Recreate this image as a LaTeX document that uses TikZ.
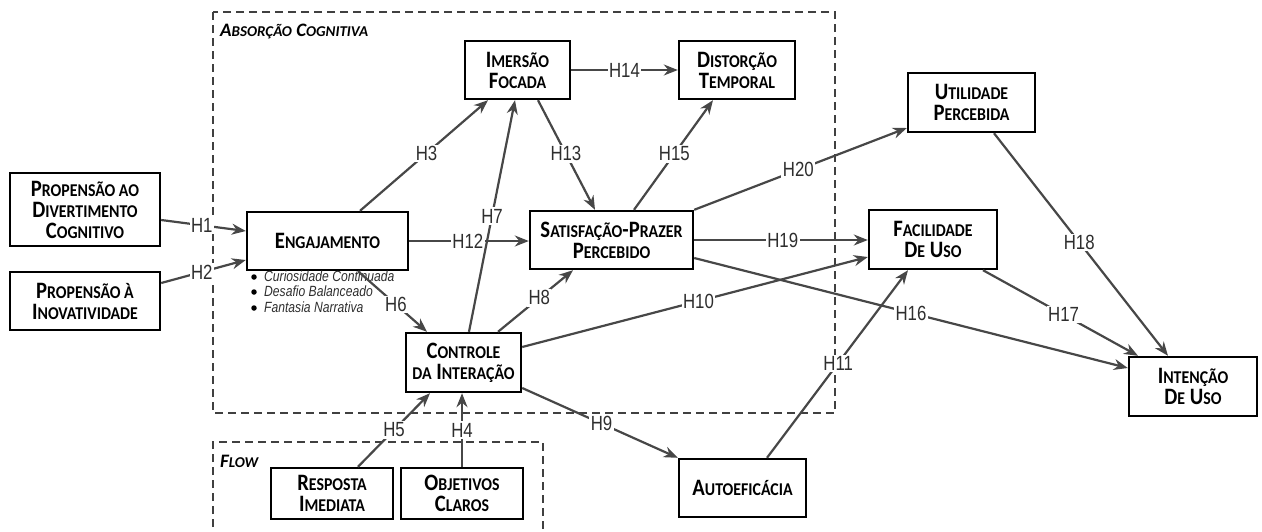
\documentclass[tikz,border=0pt]{standalone}
\usepackage{fontspec}
\usetikzlibrary{arrows.meta,calc}
\newfontfamily\boxfont[FakeStretch=0.88]{Carlito}
\newfontfamily\ttlfont{Carlito}
\newfontfamily\lblfont[FakeStretch=0.82]{Liberation Sans}
\newcommand\smc[1]{{\fontsize{18}{21}\selectfont #1}}
\newcommand\smt[1]{{\fontsize{15}{16}\selectfont #1}}
\definecolor{edgec}{HTML}{474747}
\definecolor{lblc}{HTML}{2E2E2E}
\tikzset{
  box/.style={draw=black, line width=2.4pt, fill=white, align=center, inner sep=0pt,
    font=\boxfont\bfseries\fontsize{23.5}{21}\selectfont},
  edge/.style={draw=edgec, line width=2.2pt, -{Stealth[length=14pt,width=11pt]}},
  lbl/.style={fill=white, inner sep=1.5pt, text=lblc, font=\lblfont\fontsize{20.5}{22}\selectfont},
  grp/.style={draw=black!75, line width=1.5pt, dash pattern=on 8pt off 5pt},
  ttl/.style={inner sep=0pt, anchor=base west, font=\ttlfont\bfseries\itshape\fontsize{19}{20}\selectfont},
  bul/.style={inner sep=0pt, anchor=base west, text=lblc, font=\lblfont\itshape\fontsize{14.8}{16}\selectfont},
  dot/.style={circle, fill=black, inner sep=0pt, minimum size=5.5pt}
}
\begin{document}
\begin{tikzpicture}[x=1pt,y=-1pt]
\useasboundingbox (0,0) rectangle (1262,531);
% groups
\draw[grp] (213,12) rectangle (835,413);
\draw[grp] (213,540) -- (213,442) -- (543,442) -- (543,540);
\node[ttl] (tabs) at (220,36) {A\smt{BSORÇÃO} C\smt{OGNITIVA}};
\node[ttl] (tflow) at (220,467) {F\smt{LOW}};
% boxes
\node[box, minimum width=150pt, minimum height=73pt] (pdc) at (85,209.5) {P\smc{ROPENSÃO AO}\\D\smc{IVERTIMENTO}\\C\smc{OGNITIVO}};
\node[box, minimum width=150pt, minimum height=58pt] (pin) at (85,301) {P\smc{ROPENSÃO À}\\I\smc{NOVATIVIDADE}};
\node[box, minimum width=161pt, minimum height=58pt] (eng) at (327.5,241) {E\smc{NGAJAMENTO}};
\node[box, minimum width=105pt, minimum height=58pt] (ime) at (517.5,70) {I\smc{MERSÃO}\\F\smc{OCADA}};
\node[box, minimum width=116pt, minimum height=58pt] (dis) at (737,70) {D\smc{ISTORÇÃO}\\T\smc{EMPORAL}};
\node[box, minimum width=163pt, minimum height=58pt] (sat) at (611.5,240) {S\smc{ATISFAÇÃO}-P\smc{RAZER}\\P\smc{ERCEBIDO}};
\node[box, minimum width=115pt, minimum height=59pt] (ctl) at (463.5,362.5) {C\smc{ONTROLE}\\\smc{DA} I\smc{NTERAÇÃO}};
\node[box, minimum width=122pt, minimum height=51pt] (res) at (332,493.5) {R\smc{ESPOSTA}\\I\smc{MEDIATA}};
\node[box, minimum width=122pt, minimum height=51pt] (obj) at (462,493.5) {O\smc{BJETIVOS}\\C\smc{LAROS}};
\node[box, minimum width=127pt, minimum height=59pt] (uti) at (971.5,102.5) {U\smc{TILIDADE}\\P\smc{ERCEBIDA}};
\node[box, minimum width=128pt, minimum height=59pt] (fac) at (933,239.5) {F\smc{ACILIDADE}\\D\smc{E} U\smc{SO}};
\node[box, minimum width=128pt, minimum height=59pt] (int) at (1193,386.5) {I\smc{NTENÇÃO}\\D\smc{E} U\smc{SO}};
\node[box, minimum width=127pt, minimum height=58pt] (aut) at (742.5,488) {A\smc{UTOEFICÁCIA}};
% bullets
\node[dot] (d1) at (254,277) {};
\node[dot] (d2) at (254,292) {};
\node[dot] (d3) at (254,308) {};
\node[bul] (b1) at (264,281) {Curiosidade Continuada};
\node[bul] (b2) at (264,296) {Desafio Balanceado};
\node[bul] (b3) at (264,312) {Fantasia Narrativa};
% edges
\draw[edge] ([yshift=-10.5pt]pdc.east) -- node[lbl,pos=0.48]{H1} ([yshift=10pt]eng.west);
\draw[edge] ([yshift=18pt]pin.east) -- node[lbl,pos=0.48]{H2} ([yshift=-19pt]eng.west);
\draw[edge] ([xshift=32.5pt]eng.north) -- node[lbl,pos=0.52]{H3} ([xshift=-29.5pt]ime.south);
\draw[edge] (eng.east) -- node[lbl,pos=0.49]{H12} (eng.east -| sat.west);
\draw[edge] ([xshift=30.5pt]eng.south) -- node[lbl,pos=0.55]{H6} ([xshift=-36.5pt]ctl.north);
\draw[edge] ([xshift=5.5pt]ctl.north) -- node[lbl,pos=0.5]{H7} ([xshift=-2.5pt]ime.south);
\draw[edge] ([xshift=34.5pt]ctl.north) -- node[lbl,pos=0.55]{H8} ([xshift=-38.5pt]sat.south);
\draw[edge] ([yshift=15.5pt]ctl.east) -- node[lbl,pos=0.51]{H10} ([yshift=-17.5pt]fac.west);
\draw[edge] ([yshift=-25.5pt]ctl.east) -- node[lbl,pos=0.51]{H9} (aut.north west);
\draw[edge] ([xshift=20.5pt]ime.south) -- node[lbl,pos=0.49]{H13} ([xshift=-16.5pt]sat.north);
\draw[edge] ([xshift=22.5pt]sat.north) -- node[lbl,pos=0.51]{H15} ([xshift=-24pt]dis.south);
\draw[edge] (ime.east) -- node[lbl,pos=0.5]{H14} (dis.west);
\draw[edge] (sat.north east) -- node[lbl,pos=0.49]{H20} ([yshift=-25.5pt]uti.west);
\draw[edge] (sat.east) -- node[lbl,pos=0.51]{H19} (sat.east -| fac.west);
\draw[edge] ([yshift=-18pt]sat.east) -- node[lbl,pos=0.5]{H16} ([yshift=18.5pt]int.west);
\draw[edge] ([xshift=24.5pt]aut.north) -- node[lbl,pos=0.505]{H11} ([xshift=-25pt]fac.south);
\draw[edge] ([xshift=50pt]fac.south) -- node[lbl,pos=0.52]{H17} ([xshift=-55pt]int.north);
\draw[edge] ([xshift=22.5pt]uti.south) -- node[lbl,pos=0.49]{H18} ([xshift=-25pt]int.north);
\draw[edge] ([xshift=26pt]res.north) -- node[lbl,pos=0.5]{H5} ([xshift=-33.5pt]ctl.south);
\draw[edge] (obj.north) -- node[lbl,pos=0.5]{H4} (obj.north |- ctl.south);
\end{tikzpicture}
\end{document}
